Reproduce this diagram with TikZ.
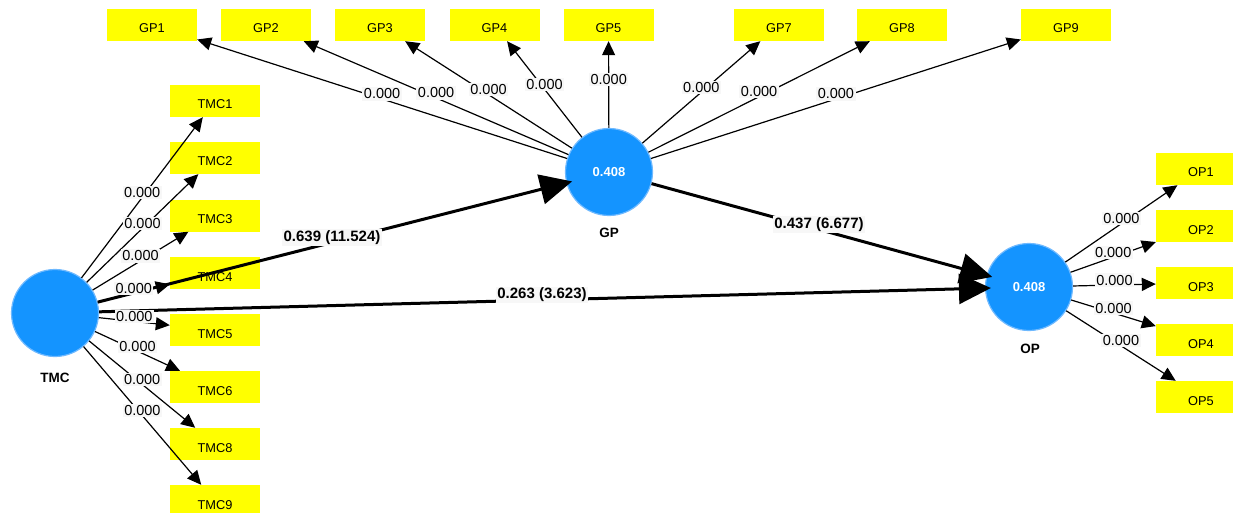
\documentclass[tikz,border=0pt]{standalone}
\usepackage{fontspec}
\setmainfont{Liberation Sans}
\usetikzlibrary{arrows.meta}
\definecolor{lvblue}{RGB}{20,148,255}
\definecolor{lvedge}{RGB}{110,185,255}
\definecolor{mvyellow}{RGB}{255,255,0}
\definecolor{lblbg}{RGB}{247,247,247}
\begin{document}
\begin{tikzpicture}[x=1pt,y=-1pt,
  mv/.style={fill=mvyellow, minimum width=90pt, minimum height=32pt, inner sep=0pt,
    font=\fontsize{12.8}{14}\selectfont, text height=16pt, text depth=0pt},
  lv/.style={circle, fill=lvblue, draw=lvedge, line width=1.2pt, minimum size=87pt,
    inner sep=0pt, text=white, font=\bfseries\fontsize{13}{15}\selectfont},
  lvname/.style={font=\bfseries\fontsize{13.5}{15}\selectfont, inner sep=0pt},
  ld/.style={line width=1.2pt, -{Triangle[length=14pt,width=13pt]}},
  sp/.style={line width=3pt, -{Triangle[length=32pt,width=30pt]}, shorten >=-6pt},
  w/.style={fill=lblbg, inner sep=1.5pt, font=\fontsize{14.5}{16}\selectfont, pos=0.5, yshift=5pt},
  ws/.style={fill=lblbg, inner sep=1.5pt, font=\bfseries\fontsize{15}{17}\selectfont, pos=0.5, yshift=5pt},
]
\useasboundingbox (0,0) rectangle (1233,513);
\clip (0,0) rectangle (1233,513);
\fill[white] (0,0) rectangle (1233,513);

% indicator boxes
\node[mv] (gp1) at (152,25) {GP1};
\node[mv] (gp2) at (266,25) {GP2};
\node[mv] (gp3) at (380,25) {GP3};
\node[mv] (gp4) at (494.5,25) {GP4};
\node[mv] (gp5) at (608.5,25) {GP5};
\node[mv] (gp7) at (779,25) {GP7};
\node[mv] (gp8) at (902,25) {GP8};
\node[mv] (gp9) at (1066,25) {GP9};

\node[mv] (tmc1) at (215,101) {TMC1};
\node[mv] (tmc2) at (215,158) {TMC2};
\node[mv] (tmc3) at (215,215.5) {TMC3};
\node[mv] (tmc4) at (215,273) {TMC4};
\node[mv] (tmc5) at (215,330) {TMC5};
\node[mv] (tmc6) at (215,387) {TMC6};
\node[mv] (tmc8) at (215,444) {TMC8};
\node[mv] (tmc9) at (215,501) {TMC9};

\node[mv] (op1) at (1201,169) {OP1};
\node[mv] (op2) at (1201,226) {OP2};
\node[mv] (op3) at (1201,283) {OP3};
\node[mv] (op4) at (1201,340) {OP4};
\node[mv] (op5) at (1201,397) {OP5};

% latent variables
\node[lv] (tmc) at (55,313) {};
\node[lv] (gp) at (609,172) {0.408};
\node[lv] (op) at (1029,287) {0.408};
\node[lvname] (tmcname) at (55,378) {TMC};
\node[lvname] (gpname) at (609,233) {GP};
\node[lvname] (opname) at (1030,349) {OP};

% loadings
\foreach \n in {1,2,3,4,5,7,8,9} \draw[ld] (gp) -- (gp\n);
\foreach \n in {1,2,3,4,5,6,8,9} \draw[ld] (tmc) -- (tmc\n);
\foreach \n in {1,2,3,4,5} \draw[ld] (op) -- (op\n);

% structural paths
\draw[sp] (tmc) -- (gp);
\draw[sp] (gp) -- (op);
\draw[sp] (tmc) -- (op);

% labels
\foreach \n in {1,2,3,4,5,7,8,9} \path (gp) -- (gp\n) node[w] {0.000};
\foreach \n in {1,2,3,4,5,6,8,9} \path (tmc) -- (tmc\n) node[w] {0.000};
\foreach \n in {1,2,3,4,5} \path (op) -- (op\n) node[w] {0.000};
\path (tmc) -- (gp) node[ws] {0.639 (11.524)};
\path (gp) -- (op) node[ws] {0.437 (6.677)};
\path (tmc) -- (op) node[ws] {0.263 (3.623)};
\end{tikzpicture}
\end{document}
